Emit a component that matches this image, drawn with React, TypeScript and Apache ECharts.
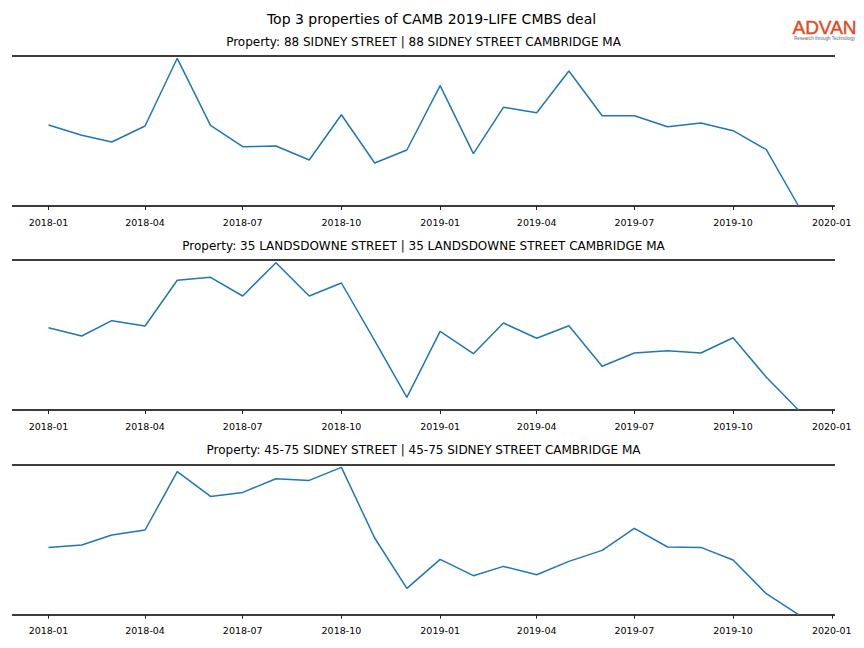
import React, { useEffect, useRef } from "react";
import * as echarts from "echarts";

const months = [
  "2018-01", "2018-02", "2018-03", "2018-04", "2018-05", "2018-06",
  "2018-07", "2018-08", "2018-09", "2018-10", "2018-11", "2018-12",
  "2019-01", "2019-02", "2019-03", "2019-04", "2019-05", "2019-06",
  "2019-07", "2019-08", "2019-09", "2019-10", "2019-11", "2019-12",
];

const sidney88 = [81, 70.7, 64, 80, 147.7, 80.7, 59.3, 60, 46, 91.3, 43, 56, 120.3, 52.3, 98.7, 93.3, 135, 90.3, 90.3, 79.3, 83, 75.3, 56.3, 0];
const landsdowne35 = [82.3, 74, 89.3, 84, 129.7, 132.7, 114, 147.3, 114, 127, 69.3, 12.7, 78.7, 56.3, 87, 71.7, 84.3, 43.7, 57, 59.3, 57, 72.3, 32.7, 0];
const sidney4575 = [67.3, 69.7, 79.7, 84.7, 143, 118.3, 122.3, 136, 134.3, 147.3, 76.7, 26.3, 55.3, 39, 48.3, 40, 53.3, 64.3, 86.3, 67.7, 67.3, 54.7, 21, 0];

const seriesValues = [sidney88, landsdowne35, sidney4575];

const subTitles = [
  "Property: 88 SIDNEY STREET | 88 SIDNEY STREET CAMBRIDGE MA",
  "Property: 35 LANDSDOWNE STREET | 35 LANDSDOWNE STREET CAMBRIDGE MA",
  "Property: 45-75 SIDNEY STREET | 45-75 SIDNEY STREET CAMBRIDGE MA",
];

const mainTitle = "Top 3 properties of CAMB 2019-LIFE CMBS deal";

const tickLabels = ["2018-01", "2018-04", "2018-07", "2018-10", "2019-01", "2019-04", "2019-07", "2019-10", "2020-01"];

const yMax = 150;
const DAY = 86400000;

function ts(ym: string): number {
  const [y, m] = ym.split("-").map(Number);
  return Date.UTC(y, m - 1, 1);
}

function fmt(v: number): string {
  const d = new Date(v);
  const m = d.getUTCMonth() + 1;
  return `${d.getUTCFullYear()}-${m < 10 ? "0" + m : m}`;
}

export default function App() {
  const ref = useRef<HTMLDivElement>(null);

  useEffect(() => {
    if (!ref.current) return;
    const chart = echarts.init(ref.current, null, { renderer: "svg" });
    const tops = [56, 260, 464.7];
    const titleYs = [42, 246, 450];
    const tickVals = tickLabels.map(ts);

    const grids = tops.map((t) => ({ left: 12, width: 823, top: t, height: 150 }));
    const xAxes = tops.map((_, i) => ({
      type: "value",
      gridIndex: i,
      min: ts("2017-11") + 27 * DAY,
      max: ts("2020-01") + 3 * DAY,
      offset: 6,
      axisLine: { show: false },
      axisTick: { show: true, length: 4, customValues: tickVals, lineStyle: { color: "#222", width: 1 } },
      axisLabel: {
        show: true,
        customValues: tickVals,
        formatter: (v: number) => fmt(v),
        fontFamily: "DejaVu Sans",
        fontSize: 9.5,
        color: "#000",
        margin: 5,
        showMinLabel: true,
        showMaxLabel: true,
      },
      splitLine: { show: false },
    }));
    const yAxes = tops.map((_, i) => ({
      type: "value",
      gridIndex: i,
      min: 0,
      max: yMax,
      interval: yMax,
      axisLine: { show: false },
      axisTick: { show: false },
      axisLabel: { show: false },
      splitLine: { show: true, lineStyle: { color: "#3c3c3c", width: 2 } },
    }));
    const series = seriesValues.map((vals, i) => ({
      type: "line",
      xAxisIndex: i,
      yAxisIndex: i,
      showSymbol: false,
      symbol: "none",
      data: months.map((m, j) => [ts(m), vals[j]]),
      lineStyle: { color: "#1f77b4", width: 1.5 },
      z: 3,
    }));

    const graphic: any[] = [
      {
        type: "text",
        x: 431.5,
        y: 19,
        style: {
          text: mainTitle,
          textAlign: "center",
          textVerticalAlign: "middle",
          font: "14px 'DejaVu Sans'",
          fill: "#000",
        },
      },
      ...subTitles.map((s, i) => ({
        type: "text",
        x: 423.5,
        y: titleYs[i],
        style: {
          text: s,
          textAlign: "center",
          textVerticalAlign: "middle",
          font: "12px 'DejaVu Sans'",
          fill: "#000",
        },
      })),
      {
        type: "text",
        x: 824.5,
        y: 27,
        style: {
          text: "ADVAN",
          textAlign: "center",
          textVerticalAlign: "middle",
          font: "19px 'Liberation Sans'",
          fill: "#E04A22",
          stroke: "#E04A22",
          lineWidth: 0.4,
        },
      },
      {
        type: "text",
        x: 824.5,
        y: 38.5,
        style: {
          text: "Research through Technology",
          textAlign: "center",
          textVerticalAlign: "middle",
          font: "4.6px 'Liberation Sans'",
          fill: "#666",
        },
      },
    ];

    chart.setOption({
      animation: false,
      backgroundColor: "#fff",
      grid: grids,
      xAxis: xAxes,
      yAxis: yAxes,
      series,
      graphic,
    } as any);
    return () => chart.dispose();
  }, []);

  return (
    <div
      ref={ref}
      style={{ position: "fixed", left: 0, top: 0, width: 864, height: 648 }}
    />
  );
}
